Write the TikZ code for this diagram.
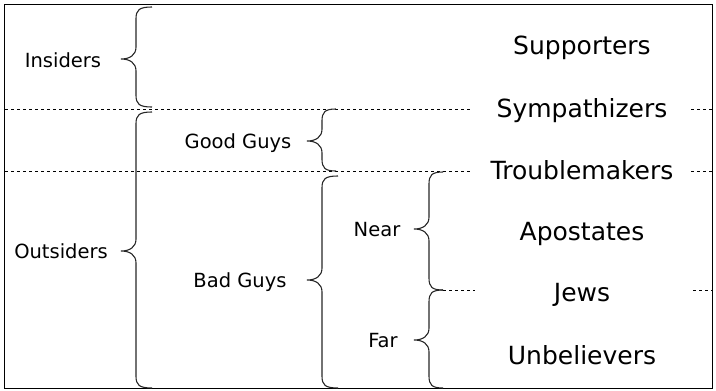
\documentclass[tikz,border=0pt]{standalone}
\usepackage{fontspec}
\setmainfont{DejaVu Sans}
\tikzset{
  frame/.style={draw=black, line width=1.1pt},
  curly/.style={draw=black!85, line width=1.1pt},
  divider/.style={draw=black, line width=0.9pt, dash pattern=on 3pt off 3pt},
  grouplabel/.style={anchor=base, font=\fontsize{19.5}{22}\selectfont, inner sep=0pt},
  kindlabel/.style={anchor=base, font=\fontsize{25}{28}\selectfont, inner sep=0pt},
}
% curly brace opening to the right: spine x, top y, tip y, bottom y, arm length
\newcommand\drawcurly[5]{%
  \draw[curly] (#1+#5,#2) .. controls (#1+3,#2) and (#1,#2+3) .. (#1,#2+12)
    -- (#1,#3-12) .. controls (#1,#3-4) and (#1-6,#3) .. (#1-15,#3)
    .. controls (#1-6,#3) and (#1,#3+4) .. (#1,#3+12)
    -- (#1,#4-12) .. controls (#1,#4-3) and (#1+3,#4) .. (#1+#5,#4);}
\begin{document}
\begin{tikzpicture}[x=1pt, y=-1pt]
  \useasboundingbox (0,0) rectangle (716,391);
  \draw[frame] (4.5,4.5) rectangle (712.5,388.5);

  % categories on the right
  \node[kindlabel] (sup) at (582,54) {Supporters};
  \node[kindlabel] (sym) at (582,117) {Sympathizers};
  \node[kindlabel] (tro) at (582,179) {Troublemakers};
  \node[kindlabel] (apo) at (582,240) {Apostates};
  \node[kindlabel] (jew) at (582,301) {Jews};
  \node[kindlabel] (unb) at (582,364) {Unbelievers};

  % group labels
  \node[grouplabel] (ins) at (63,67) {Insiders};
  \node[grouplabel] (out) at (61,258) {Outsiders};
  \node[grouplabel] (good) at (238,148) {Good Guys};
  \node[grouplabel] (bad) at (240,287) {Bad Guys};
  \node[grouplabel] (near) at (377,236) {Near};
  \node[grouplabel] (far) at (383,347) {Far};

  % dividing lines
  \coordinate (d1a) at (5,109.5);   \coordinate (d1b) at (472,109.5);
  \coordinate (d1c) at (691,109.5); \coordinate (d1d) at (712,109.5);
  \coordinate (d2a) at (5,171.5);   \coordinate (d2b) at (472,171.5);
  \coordinate (d2c) at (691,171.5); \coordinate (d2d) at (712,171.5);
  \coordinate (d3a) at (443,290);   \coordinate (d3b) at (475,290);
  \coordinate (d3c) at (693,290);   \coordinate (d3d) at (712,290);
  \draw[divider] (d1a) -- (d1b) (d1c) -- (d1d);
  \draw[divider] (d2a) -- (d2b) (d2c) -- (d2d);
  \draw[divider] (d3a) -- (d3b) (d3c) -- (d3d);

  % braces
  \drawcurly{136}{7}{59}{107}{16}
  \drawcurly{136}{112}{251}{388}{16}
  \drawcurly{322}{109}{141}{171}{14}
  \drawcurly{322}{176}{280}{388}{16}
  \drawcurly{429}{172}{229}{290}{14}
  \drawcurly{429}{290}{340}{388}{14}
\end{tikzpicture}
\end{document}
